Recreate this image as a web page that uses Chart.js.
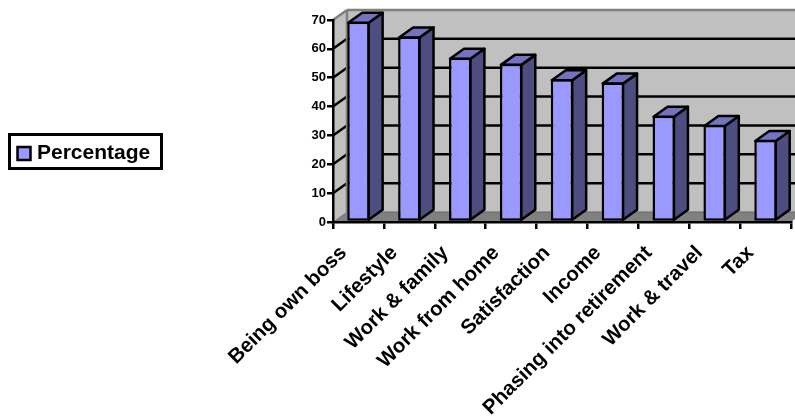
<!DOCTYPE html>
<html>
<head>
<meta charset="utf-8">
<title>Percentage</title>
<script src="https://cdn.jsdelivr.net/npm/chart.js@4/dist/chart.umd.min.js"></script>
<style>
  html, body { margin: 0; padding: 0; background: #fff; }
  canvas { display: block; }
</style>
</head>
<body>
<canvas id="chart" width="795" height="416"></canvas>
<script>
const categories = ['Being own boss', 'Lifestyle', 'Work & family', 'Work from home', 'Satisfaction',
  'Income', 'Phasing into retirement', 'Work & travel', 'Tax'];
const percentages = [69.4, 64.3, 56.9, 54.8, 49.5, 48.3, 36.8, 33.6, 28.4];
const seriesName = 'Percentage';

const FONT = '"Liberation Sans", Arial, sans-serif';
// how far the extruded faces go back, in pixels
const DEPTH_X = 14;
const DEPTH_Y = 10;
const LINE = 2.5;

function poly(ctx, pts, fill, stroke, width) {
  ctx.beginPath();
  pts.forEach((p, i) => i ? ctx.lineTo(p[0], p[1]) : ctx.moveTo(p[0], p[1]));
  ctx.closePath();
  if (fill) { ctx.fillStyle = fill; ctx.fill(); }
  if (stroke) { ctx.strokeStyle = stroke; ctx.lineWidth = width; ctx.stroke(); }
}

function line(ctx, x1, y1, x2, y2, color, width) {
  ctx.beginPath();
  ctx.moveTo(x1, y1);
  ctx.lineTo(x2, y2);
  ctx.strokeStyle = color;
  ctx.lineWidth = width;
  ctx.stroke();
}

// back wall, side wall, floor and the gridlines wrapped around them
const wallsPlugin = {
  id: 'walls',
  beforeDraw(chart) {
    const { ctx, chartArea: a, scales: { y } } = chart;
    const bx = a.left + DEPTH_X;
    const rx = a.right + DEPTH_X;
    const bottom = y.getPixelForValue(0);
    const top = y.getPixelForValue(70);
    ctx.save();
    poly(ctx, [[bx, top - DEPTH_Y], [rx, top - DEPTH_Y], [rx, bottom - DEPTH_Y], [bx, bottom - DEPTH_Y]], '#c0c0c0');
    poly(ctx, [[a.left, top], [bx, top - DEPTH_Y], [bx, bottom - DEPTH_Y], [a.left, bottom]], '#c0c0c0');
    poly(ctx, [[a.left, bottom], [bx, bottom - DEPTH_Y], [rx, bottom - DEPTH_Y], [a.right, bottom]], '#808080');
    y.ticks.forEach(t => {
      const py = y.getPixelForValue(t.value);
      if (t.value === 0 || t.value === 70) return;
      line(ctx, a.left, py, bx, py - DEPTH_Y, '#000', LINE);
      line(ctx, bx, py - DEPTH_Y, rx, py - DEPTH_Y, '#000', LINE);
    });
    line(ctx, a.left, top, bx, top - DEPTH_Y, '#808080', LINE);
    line(ctx, bx, top - DEPTH_Y, rx, top - DEPTH_Y, '#808080', LINE);
    line(ctx, bx, top - DEPTH_Y, bx, bottom - DEPTH_Y, '#808080', LINE);
    line(ctx, a.left, bottom, bx, bottom - DEPTH_Y, '#808080', 1);
    line(ctx, bx, bottom - DEPTH_Y, rx, bottom - DEPTH_Y, '#666', 1);
    ctx.restore();
  },
  // side and top faces of each bar, taken from the bar elements
  beforeDatasetsDraw(chart) {
    const ctx = chart.ctx;
    ctx.save();
    ctx.lineJoin = 'round';
    chart.getDatasetMeta(0).data.forEach(bar => {
      const l = bar.x - bar.width / 2 + 1;
      const r = bar.x + bar.width / 2 - 1;
      const t = bar.y + 1;
      const b = bar.base - 1;
      poly(ctx, [[r, t], [r + DEPTH_X, t - DEPTH_Y], [r + DEPTH_X, b - DEPTH_Y], [r, b]], '#4d4d80', '#000', LINE);
      poly(ctx, [[l, t], [l + DEPTH_X, t - DEPTH_Y], [r + DEPTH_X, t - DEPTH_Y], [r, t]], '#7373bf', '#000', LINE);
    });
    ctx.restore();
  }
};

// moves the legend out to the left of the plot and frames it
const legendBoxPlugin = {
  id: 'legendBox',
  afterLayout(chart) {
    const lg = chart.legend;
    lg.left = 13.5;
    lg.right = 162;
    lg.top = 135;
    lg.bottom = 169;
  },
  afterDraw(chart) {
    const ctx = chart.ctx;
    ctx.save();
    ctx.strokeStyle = '#000';
    ctx.lineWidth = 3;
    ctx.strokeRect(9.5, 134.5, 152, 34);
    ctx.restore();
  }
};

new Chart(document.getElementById('chart'), {
  type: 'bar',
  data: {
    labels: categories,
    datasets: [{
      label: seriesName,
      data: percentages,
      backgroundColor: '#9999ff',
      borderColor: '#000',
      borderWidth: LINE,
      borderSkipped: false,
      barPercentage: 0.44,
      categoryPercentage: 1
    }]
  },
  options: {
    responsive: false,
    animation: false,
    layout: { padding: { top: 20, left: 293, right: 2, bottom: 0 } },
    plugins: {
      tooltip: { enabled: false },
      legend: {
        position: 'chartArea',
        align: 'start',
        labels: {
          usePointStyle: true,
          pointStyle: 'rect',
          boxWidth: 5,
          boxHeight: 13,
          padding: 8,
          color: '#000',
          font: { family: FONT, size: 21, weight: 'bold' }
        }
      }
    },
    scales: {
      x: {
        afterFit(s) { s.height = 194; },
        border: { color: '#000', width: LINE },
        grid: { drawOnChartArea: false, color: '#000', lineWidth: LINE, tickLength: 7 },
        ticks: {
          autoSkip: false,
          minRotation: 45,
          maxRotation: 45,
          labelOffset: -15,
          padding: 12,
          color: '#000',
          font: { family: FONT, size: 20.5, weight: 'bold' }
        }
      },
      y: {
        min: 0,
        max: 70,
        afterFit(s) { s.width = 40; },
        border: { color: '#000', width: LINE },
        grid: { drawOnChartArea: false, color: '#000', lineWidth: LINE, tickLength: 6 },
        ticks: {
          stepSize: 10,
          padding: 1,
          color: '#000',
          font: { family: FONT, size: 13, weight: 'bold' }
        }
      }
    }
  },
  plugins: [wallsPlugin, legendBoxPlugin]
});
</script>
</body>
</html>
